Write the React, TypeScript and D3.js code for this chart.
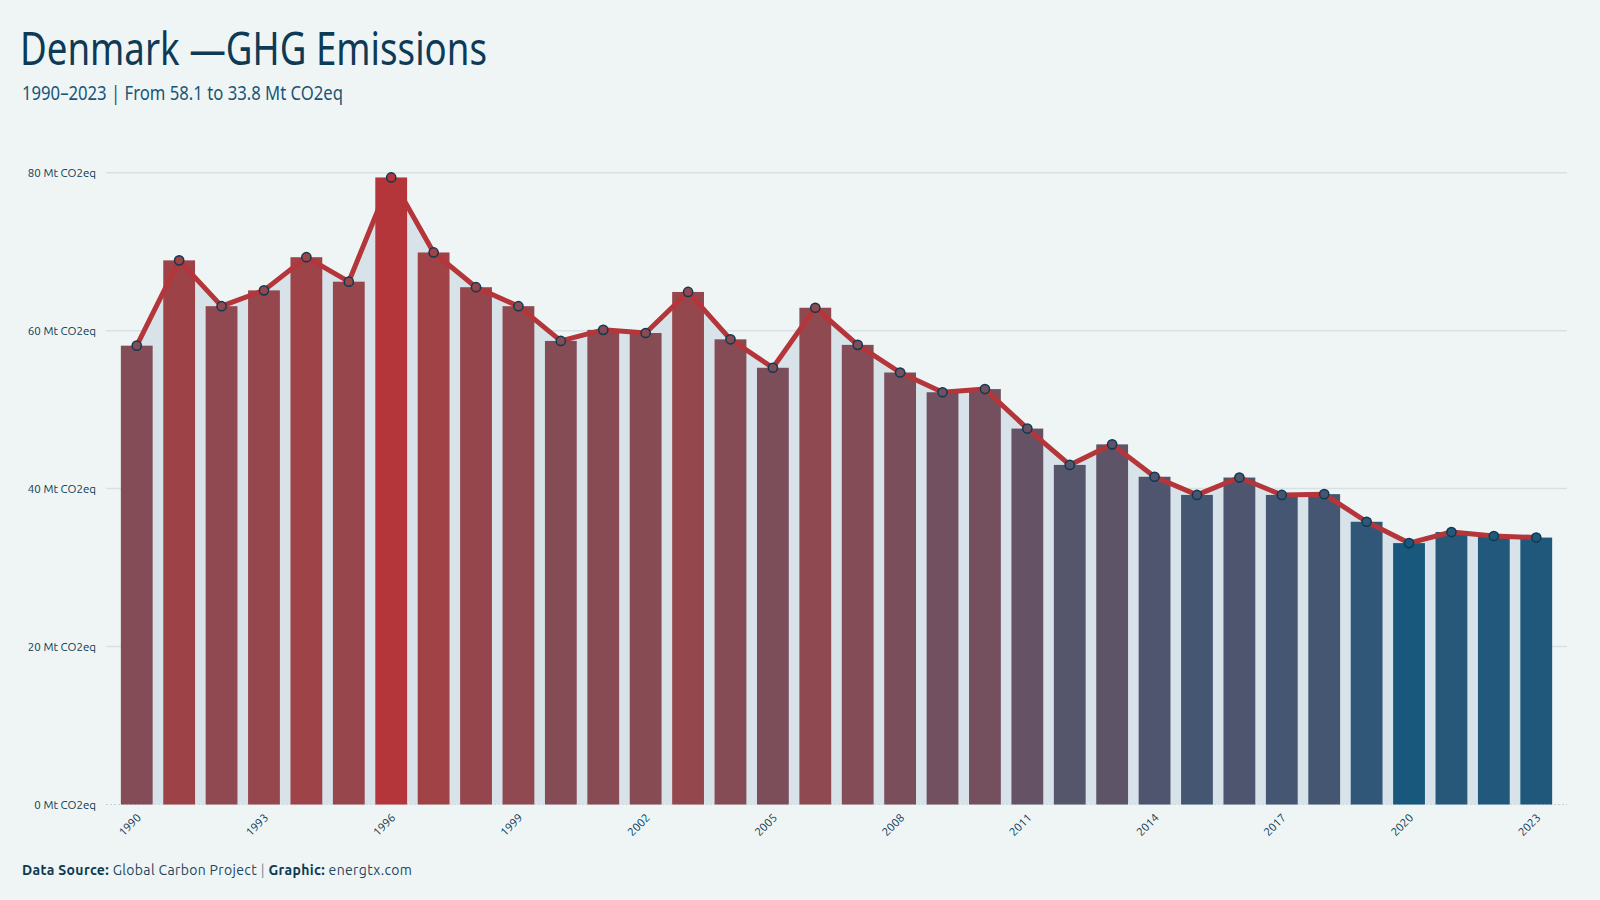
import * as d3 from "d3";
import React from "react";

const years = [
  1990, 1991, 1992, 1993, 1994, 1995, 1996, 1997, 1998, 1999, 2000, 2001,
  2002, 2003, 2004, 2005, 2006, 2007, 2008, 2009, 2010, 2011, 2012, 2013,
  2014, 2015, 2016, 2017, 2018, 2019, 2020, 2021, 2022, 2023,
];
const emissions = [
  58.1, 68.9, 63.1, 65.1, 69.3, 66.2, 79.4, 69.9, 65.5, 63.1, 58.7, 60.1,
  59.7, 64.9, 58.9, 55.3, 62.9, 58.2, 54.7, 52.2, 52.6, 47.6, 43.0, 45.6,
  41.5, 39.2, 41.4, 39.2, 39.3, 35.8, 33.1, 34.5, 34.0, 33.8,
];
const yTicks = [0, 20, 40, 60, 80];
const labelYears = [1990, 1993, 1996, 1999, 2002, 2005, 2008, 2011, 2014, 2017, 2020, 2023];

const W = 1600;
const H = 900;
const bg = "#eff5f5";
const navy = "#0d3a52";
const red = "#b4363a";
const blue = "#18587c";
const uiFont = "Ubuntu, 'Noto Sans', 'Open Sans', sans-serif";
const condFont = "'Ubuntu Condensed', 'Noto Sans', sans-serif";

const App = () => {
  const x = d3
    .scaleBand<number>()
    .domain(years)
    .range([106, 1567])
    .paddingInner(0.25)
    .paddingOuter(0.35);
  const y = d3.scaleLinear().domain([0, 80]).range([804.5, 172.7]);
  const t = d3
    .scalePow()
    .exponent(0.75)
    .domain([d3.min(emissions)!, d3.max(emissions)!])
    .range([0, 1]);
  // lab interpolation keeps the middle years greyish like the original
  const colorOf = (v) => d3.interpolateLab(blue, red)(t(v));
  const cx = (yr) => x(yr)! + x.bandwidth() / 2;

  const data = years.map((yr, i) => ({ year: yr, value: emissions[i] }));
  const area = d3
    .area<any>()
    .x((d) => cx(d.year))
    .y0(y(0))
    .y1((d) => y(d.value));
  const line = d3
    .line<any>()
    .x((d) => cx(d.year))
    .y((d) => y(d.value));

  return (
    <div style={{ position: "fixed", left: 0, top: 0, width: W, height: H, background: bg }}>
      <svg width={W} height={H} style={{ display: "block" }}>
        <rect width={W} height={H} fill={bg} />
        <text x={20} y={65} fontFamily={condFont} fontSize={45} fill="#0e3a55" textLength={467} lengthAdjust="spacingAndGlyphs">
          Denmark —GHG Emissions
        </text>
        <text x={22} y={100} fontFamily={condFont} fontSize={19.5} fill="#1a5577" textLength={321} lengthAdjust="spacingAndGlyphs">
          1990–2023 | From 58.1 to 33.8 Mt CO2eq
        </text>

        {yTicks.map((v) => (
          <g key={v}>
            {v > 0 ? (
              <line x1={106} x2={1567} y1={y(v)} y2={y(v)} stroke="#d5e1e5" strokeWidth={1.5} />
            ) : (
              <line x1={106} x2={1567} y1={y(v)} y2={y(v)} stroke="#c5d3d9" strokeWidth={1} strokeDasharray="2,2" />
            )}
            <text x={96} y={y(v) + 4} textAnchor="end" fontFamily={uiFont} fontSize={11.5} fill={navy}>
              {v} Mt CO2eq
            </text>
          </g>
        ))}

        <path d={area(data)!} fill="#d7e3e8" />

        {data.map((d) => (
          <rect
            key={d.year}
            x={x(d.year)}
            y={y(d.value)}
            width={x.bandwidth()}
            height={y(0) - y(d.value)}
            fill={colorOf(d.value)}
          />
        ))}

        <path d={line(data)!} fill="none" stroke={red} strokeWidth={5} strokeLinejoin="round" />

        {data.map((d) => (
          <circle
            key={d.year}
            cx={cx(d.year)}
            cy={y(d.value)}
            r={4.6}
            fill={colorOf(d.value)}
            stroke={navy}
            strokeWidth={1.5}
          />
        ))}

        {labelYears.map((yr) => (
          <text
            key={yr}
            transform={`translate(${cx(yr) + 5},${y(0) + 14}) rotate(-45)`}
            textAnchor="end"
            fontFamily={uiFont}
            fontSize={11.5}
            fill={navy}
          >
            {yr}
          </text>
        ))}

        <text x={22} y={875} fontFamily={uiFont} fontSize={14} letterSpacing={0.35} fill={navy}>
          <tspan fontWeight="bold">Data Source:</tspan>
          <tspan fill="#1f4560"> Global Carbon Project </tspan>
          <tspan fill="#6e8a9a">|</tspan>
          <tspan fontWeight="bold"> Graphic:</tspan>
          <tspan fill="#1f4560"> energtx.com</tspan>
        </text>
      </svg>
    </div>
  );
};

export default App;
